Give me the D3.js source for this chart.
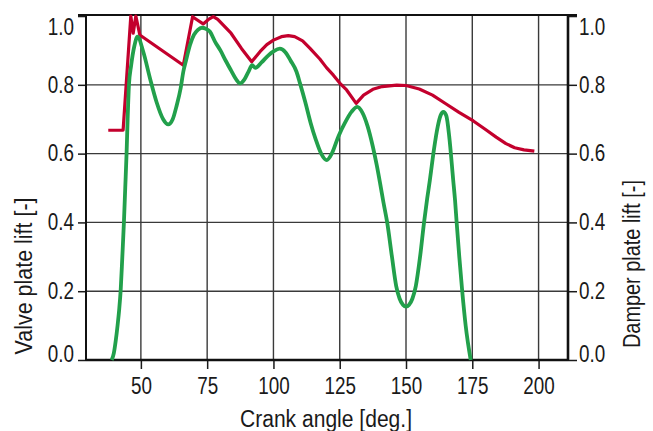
<!DOCTYPE html>
<html>
<head>
<meta charset="utf-8">
<script src="https://cdn.jsdelivr.net/npm/d3@7"></script>
<style>
  body { margin: 0; background: #fff; }
  svg text { font-family: "Liberation Sans", Arial, sans-serif; fill: #1a1a1a; }
</style>
</head>
<body>
<div id="chart"></div>
<script>
// crank angle ticks and lift ticks
var xTicks = [50, 75, 100, 125, 150, 175, 200];
var yTicks = [0, 0.2, 0.4, 0.6, 0.8, 1.0];

// valve plate lift (green, left axis)
var valveAngle = [39.0, 39.8, 40.5, 41.2, 41.8, 42.4, 43.0, 43.6, 44.1, 44.6, 45.0, 45.5, 46.3, 47.6, 48.7,
  50.9, 53.4, 55.9, 58.4, 60.3, 62, 63.5, 65, 66, 67, 68.5, 70, 71.5, 73, 74.5, 76,
  78, 80, 82, 84, 86, 87.4, 89, 90.5, 92.0, 93.2, 95.5, 98, 100, 102.4, 104.5, 106.5,
  108.7, 110, 112, 114, 116, 118, 120.1, 122, 124.5, 127, 129.5, 131.6, 133.5, 135.5,
  137.5, 139, 140.2, 141.5, 142.9, 144.7, 146.3, 147.6, 148.9, 150, 151.1, 152.4, 153.7, 155.3, 156.8,
  158, 159, 160.5, 162, 163, 164.1, 165.2, 166.3, 167.8, 168.5, 169.1, 170.1, 171.2, 172.5, 174.4];
var valveLift = [0.0, 0.02, 0.055, 0.10, 0.145, 0.205, 0.30, 0.40, 0.50, 0.60, 0.70, 0.80, 0.855, 0.915, 0.94,
  0.896, 0.82, 0.75, 0.70, 0.685, 0.70, 0.74, 0.79, 0.838, 0.87, 0.915, 0.945, 0.96, 0.966, 0.963, 0.955,
  0.925, 0.90, 0.87, 0.842, 0.815, 0.804, 0.815, 0.837, 0.857, 0.849, 0.865, 0.885, 0.897, 0.905, 0.895, 0.87,
  0.838, 0.805, 0.75, 0.69, 0.64, 0.60, 0.581, 0.60, 0.65, 0.69, 0.722, 0.736, 0.72, 0.68,
  0.62, 0.565, 0.515, 0.458, 0.40, 0.30, 0.215, 0.178, 0.16, 0.155, 0.16, 0.178, 0.215, 0.30, 0.40,
  0.47, 0.523, 0.61, 0.68, 0.71, 0.721, 0.71, 0.65, 0.523, 0.464, 0.40, 0.30, 0.20, 0.10, 0.0];

// damper plate lift (red, right axis)
var damperAngle = [37.7, 43.3, 46.2, 47.1, 48.1, 49.6, 66.0, 69.5, 71, 73.5, 75.5, 77.3, 79,
  84, 88, 91.8, 95, 97.5, 100, 103, 105.6, 108, 111, 113.8, 117.5, 120, 122.6, 125, 127.6, 131.2,
  134, 137.5, 141, 146.5, 150, 155, 160, 165, 170, 175.4, 180, 184, 187.7, 191, 194.5, 198.4];
var damperLift = [0.668, 0.668, 1.0, 0.95, 1.0, 0.945, 0.857, 0.998, 0.99, 0.977, 0.99, 0.998, 0.99,
  0.95, 0.905, 0.867, 0.897, 0.917, 0.93, 0.94, 0.943, 0.94, 0.928, 0.906, 0.875, 0.85, 0.828, 0.805, 0.785, 0.746,
  0.77, 0.787, 0.795, 0.799, 0.798, 0.788, 0.77, 0.745, 0.72, 0.695, 0.67, 0.648, 0.629, 0.617, 0.611, 0.607];

var width = 653, height = 431;
var margin = { top: 15, right: 85, bottom: 71, left: 86 };
var narrow = 0.82; // squeeze text like a condensed face

var svg = d3.select("#chart")
    .append("svg")
    .attr("width", width)
    .attr("height", height);

var x = d3.scaleLinear()
    .domain([29.3, 211.1])
    .range([margin.left, width - margin.right]);
var y = d3.scaleLinear()
    .domain([0, 1.003])
    .range([height - margin.bottom, margin.top]);

// grid
svg.append("g")
    .selectAll("line")
    .data(xTicks)
    .enter()
    .append("line")
    .attr("x1", function (d) { return x(d); })
    .attr("x2", function (d) { return x(d); })
    .attr("y1", margin.top)
    .attr("y2", height - margin.bottom)
    .attr("stroke", "#3a3a3a")
    .attr("stroke-width", 1.4);

svg.append("g")
    .selectAll("line")
    .data(yTicks.slice(1, 5))
    .enter()
    .append("line")
    .attr("x1", margin.left)
    .attr("x2", width - margin.right)
    .attr("y1", function (d) { return y(d); })
    .attr("y2", function (d) { return y(d); })
    .attr("stroke", "#3a3a3a")
    .attr("stroke-width", 1.4);

// axes
var fmt = d3.format(".1f");

var xAxis = svg.append("g")
    .attr("transform", "translate(0," + (height - margin.bottom) + ")")
    .call(d3.axisBottom(x).tickValues(xTicks).tickSize(9).tickPadding(9));

var yLeft = svg.append("g")
    .attr("transform", "translate(" + margin.left + ",0)")
    .call(d3.axisLeft(y).tickValues(yTicks).tickFormat(fmt).tickSize(8).tickPadding(4));

var yRight = svg.append("g")
    .attr("transform", "translate(" + (width - margin.right) + ",0)")
    .call(d3.axisRight(y).tickValues(yTicks).tickFormat(fmt).tickSize(9).tickPadding(2));

[xAxis, yLeft, yRight].forEach(function (g) {
    g.select(".domain").remove();
    g.selectAll("line").attr("stroke", "#1a1a1a").attr("stroke-width", 1.5);
    g.selectAll("text")
        .attr("font-size", 23)
        .attr("font-family", null)
        .attr("fill", null)
        .attr("x", function () { return (+this.getAttribute("x") || 0) / narrow; })
        .attr("transform", "scale(" + narrow + ",1)");
});

// end labels sit inside the frame
[yLeft, yRight].forEach(function (g) {
    g.selectAll(".tick text")
        .attr("dy", function (d) {
            if (d === 1.0) return "0.82em";
            if (d === 0) return "0.06em";
            return "0.32em";
        });
});

// frame
var frame = svg.append("g").attr("stroke", "#111");
frame.append("line")
    .attr("x1", x.range()[0] - 8).attr("x2", x.range()[1] + 9)
    .attr("y1", y.range()[1]).attr("y2", y.range()[1])
    .attr("stroke-width", 2);
frame.append("line")
    .attr("x1", x.range()[0]).attr("x2", x.range()[1])
    .attr("y1", y.range()[0]).attr("y2", y.range()[0])
    .attr("stroke-width", 2.5);
frame.append("line")
    .attr("x1", x.range()[0]).attr("x2", x.range()[0])
    .attr("y1", y.range()[1]).attr("y2", y.range()[0] + 1)
    .attr("stroke-width", 2);
frame.append("line")
    .attr("x1", x.range()[1]).attr("x2", x.range()[1])
    .attr("y1", y.range()[1]).attr("y2", y.range()[0] + 1)
    .attr("stroke-width", 2.6);

// lines
var line = d3.line()
    .x(function (d) { return x(d[0]); })
    .y(function (d) { return y(d[1]); })
    .curve(d3.curveLinear);

var damper = d3.zip(damperAngle, damperLift);
var valve = d3.zip(valveAngle, valveLift);

svg.append("path")
    .datum(damper)
    .attr("d", line)
    .attr("fill", "none")
    .attr("stroke", "#c3002d")
    .attr("stroke-width", 3.2)
    .attr("stroke-linejoin", "round");

svg.append("path")
    .datum(valve)
    .attr("d", line.curve(d3.curveMonotoneX))
    .attr("fill", "none")
    .attr("stroke", "#22a04b")
    .attr("stroke-width", 3.8)
    .attr("stroke-linejoin", "round");

// titles
svg.append("text")
    .attr("x", (x.range()[0] + x.range()[1]) / 2 - 1)
    .attr("y", 427)
    .attr("text-anchor", "middle")
    .attr("font-size", 23)
    .attr("textLength", 172)
    .attr("lengthAdjust", "spacingAndGlyphs")
    .text("Crank angle [deg.]");

svg.append("text")
    .attr("transform", "translate(32,276) rotate(-90)")
    .attr("text-anchor", "middle")
    .attr("font-size", 23)
    .attr("textLength", 157)
    .attr("lengthAdjust", "spacingAndGlyphs")
    .text("Valve plate lift [-]");

svg.append("text")
    .attr("transform", "translate(640,264) rotate(-90)")
    .attr("text-anchor", "middle")
    .attr("font-size", 23)
    .attr("textLength", 168)
    .attr("lengthAdjust", "spacingAndGlyphs")
    .text("Damper plate lift [-]");
</script>
</body>
</html>
